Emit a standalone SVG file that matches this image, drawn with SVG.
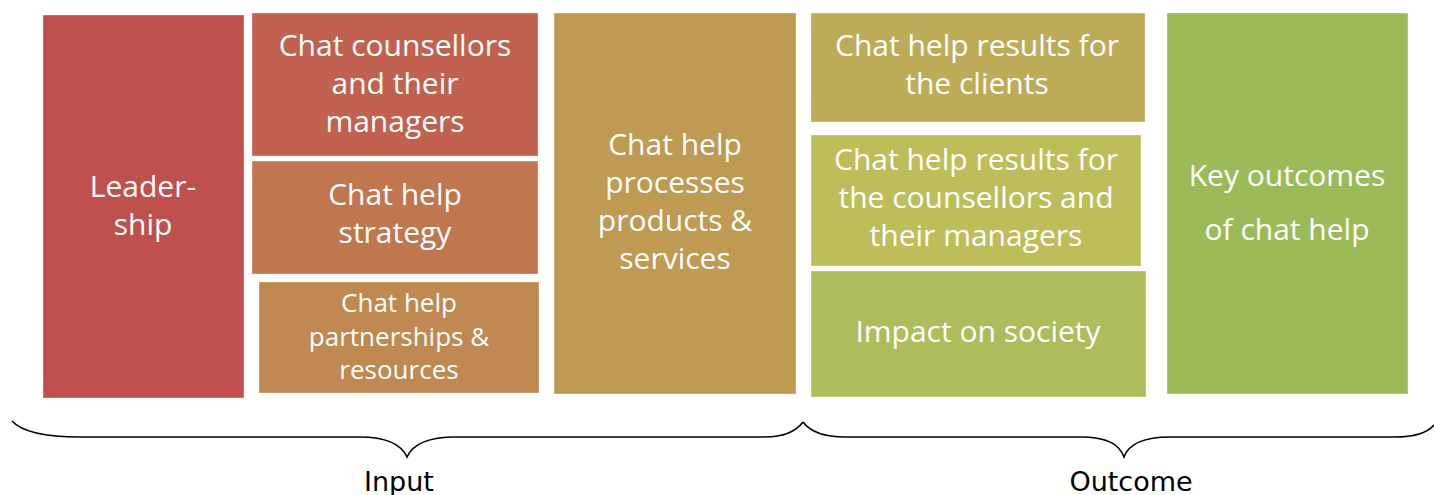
<svg xmlns="http://www.w3.org/2000/svg" width="1434" height="495" viewBox="0 0 1434 495">
<style>
.box{stroke:#ffffff;stroke-opacity:0.35;stroke-width:1}
.t{font-family:"Open Sans","Liberation Sans",sans-serif;font-size:30px;fill:#ffffff;text-anchor:middle}
.ts{font-family:"Open Sans","Liberation Sans",sans-serif;font-size:26px;fill:#ffffff;text-anchor:middle}
.lbl{font-family:"DejaVu Sans","Liberation Sans",sans-serif;font-size:27px;fill:#000000;text-anchor:middle}
.brace{fill:none;stroke:#000000;stroke-width:1.6}
</style>
<rect width="1434" height="495" fill="#ffffff"/>
<g id="leadership">
<rect class="box" x="43" y="15" width="201" height="383" fill="#C0504D"/>
<text class="t" x="143" y="197">Leader-</text>
<text class="t" x="143" y="235">ship</text>
</g>
<g id="counsellors">
<rect class="box" x="252" y="13" width="286" height="143" fill="#C0624F"/>
<text class="t" x="395" y="56">Chat counsellors</text>
<text class="t" x="395" y="94">and their</text>
<text class="t" x="395" y="132">managers</text>
</g>
<g id="strategy">
<rect class="box" x="252" y="161" width="286" height="113" fill="#C07750"/>
<text class="t" x="395" y="205">Chat help</text>
<text class="t" x="395" y="243">strategy</text>
</g>
<g id="partnerships">
<rect class="box" x="259" y="282" width="280" height="111" fill="#BF8951"/>
<text class="ts" x="399" y="312">Chat help</text>
<text class="ts" x="399" y="346">partnerships &amp;</text>
<text class="ts" x="399" y="379">resources</text>
</g>
<g id="processes">
<rect class="box" x="554" y="13" width="242" height="381" fill="#BE9A52"/>
<text class="t" x="675" y="155">Chat help</text>
<text class="t" x="675" y="193">processes</text>
<text class="t" x="675" y="231">products &amp;</text>
<text class="t" x="675" y="269">services</text>
</g>
<g id="results-clients">
<rect class="box" x="811" y="13" width="334" height="109" fill="#BEAB57"/>
<text class="t" x="977" y="56">Chat help results for</text>
<text class="t" x="977" y="94">the clients</text>
</g>
<g id="results-counsellors">
<rect class="box" x="811" y="135" width="330" height="131" fill="#BDBD5A"/>
<text class="t" x="976" y="170">Chat help results for</text>
<text class="t" x="976" y="208">the counsellors and</text>
<text class="t" x="976" y="246">their managers</text>
</g>
<g id="impact">
<rect class="box" x="811" y="271" width="335" height="126" fill="#AEBC5C"/>
<text class="t" x="978" y="342">Impact on society</text>
</g>
<g id="key-outcomes">
<rect class="box" x="1167" y="13" width="241" height="381" fill="#9BBB59"/>
<text class="t" x="1287" y="186">Key outcomes</text>
<text class="t" x="1287" y="240">of chat help</text>
</g>
<g id="connectors">
<path class="brace" d="M12,421 C22,432 45,437 80,437 L360,437 C390,437 402,446 407,457 C412,446 424,437 455,437 L765,437 C785,437 797,430 803,422"/>
<path class="brace" d="M803,422 C809,430 821,437 845,437 L1080,437 C1110,437 1120,446 1124,457 C1128,446 1140,437 1170,437 L1395,437 C1415,437 1428,432 1434,425"/>
</g>
<g id="labels">
<text class="lbl" x="399" y="491">Input</text>
<text class="lbl" x="1131" y="491">Outcome</text>
</g>
</svg>
